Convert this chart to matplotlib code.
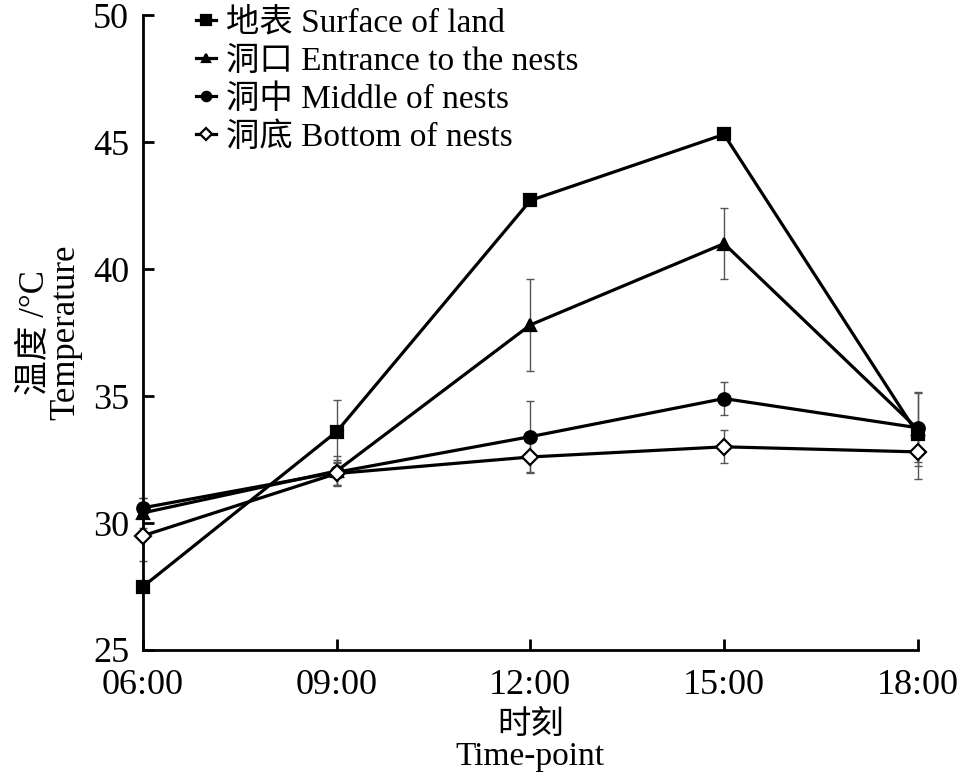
import matplotlib
matplotlib.use('Agg')
from matplotlib import pyplot as plt

## 数据
times = ['06:00', '09:00', '12:00', '15:00', '18:00']
surface = [27.5, 33.6, 42.7, 45.3, 33.5]
surface_err = [0, 1.25, 0, 0, 0]
entrance = [30.4, 32.05, 37.8, 41.0, 33.7]
entrance_err = [0.6, 0.6, 1.8, 1.4, 1.45]
middle = [30.6, 32.0, 33.4, 34.9, 33.75]
middle_err = [0.4, 0.5, 1.4, 0.65, 1.35]
bottom = [29.5, 31.95, 32.6, 33.0, 32.8]
bottom_err = [1.0, 0.45, 0.65, 0.65, 1.05]

labels = ['地表 Surface of land', '洞口 Entrance to the nests',
          '洞中 Middle of nests', '洞底 Bottom of nests']

fonts = ['Liberation Serif', 'Noto Sans CJK SC']
plt.rcParams['font.family'] = fonts

fig = plt.figure(figsize=(9.67, 7.79), dpi=100)
ax = fig.add_axes([0.148, 0.1656, 0.801, 0.8151])

x = list(range(len(times)))
series = [
    (surface, surface_err, 's', 'black', 9),
    (entrance, entrance_err, '^', 'black', 8),
    (middle, middle_err, 'o', 'black', 9),
    (bottom, bottom_err, 'D', 'white', 8),
]
handles = []
for (vals, errs, mk, fc, ms), lab in zip(series, labels):
    ax.errorbar(x, vals, yerr=errs, fmt='none', ecolor='#555555',
                elinewidth=1.0, capsize=3, capthick=1.0, zorder=1,
                clip_on=False)
    h, = ax.plot(x, vals, color='black', lw=2.3, marker=mk, ms=ms,
                 mfc=fc, mec='black', mew=1.6, label=lab, zorder=6,
                 clip_on=False)
    handles.append(h)

ax.set_xlim(0, 4)
ax.set_ylim(25, 50)
ax.set_xticks(x)
ax.set_xticklabels(times)
ax.set_yticks([25, 30, 35, 40, 45, 50])
ax.spines['top'].set_visible(False)
ax.spines['right'].set_visible(False)
ax.spines['left'].set_linewidth(2)
ax.spines['bottom'].set_linewidth(2)
ax.tick_params(axis='x', direction='in', length=8, width=2,
               labelsize=26, pad=14)
ax.tick_params(axis='y', direction='in', length=8, width=2,
               labelsize=26, pad=10)

ax.set_xlabel('时刻\nTime-point', fontsize=24, linespacing=1.0, labelpad=6)
ax.set_ylabel('温度 /°C\nTemperature', fontsize=25, linespacing=0.9, labelpad=8)

ax.legend(handles=handles, loc='upper left', bbox_to_anchor=(0.03, 1.058),
          frameon=False, fontsize=24, handlelength=0.6, handletextpad=0.3,
          labelspacing=0.22, markerscale=0.75)

plt.savefig('out.png', dpi=100)
